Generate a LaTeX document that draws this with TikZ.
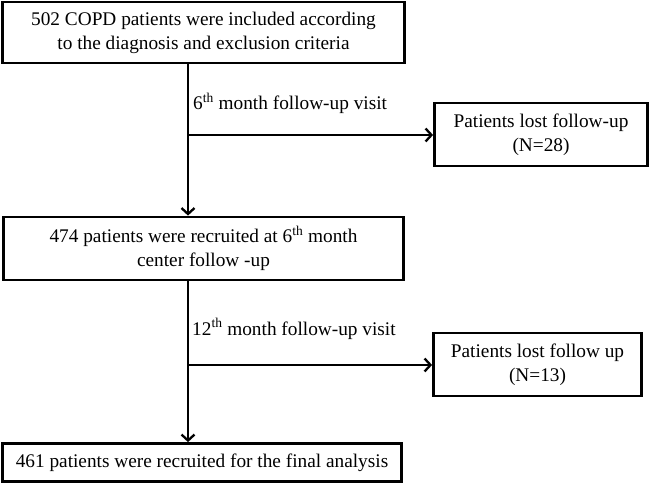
\documentclass[tikz,border=0pt]{standalone}
\usepackage{fontspec}
\setmainfont{Liberation Serif}
\usetikzlibrary{arrows.meta}
\begin{document}
\begin{tikzpicture}[x=1pt,y=-1pt,
  box/.style={draw,line width=2.8pt,align=center,inner sep=0pt,font=\fontsize{19.3}{24}\selectfont},
  arr/.style={line width=2.5pt,-{Straight Barb[length=6pt,width=13pt,line width=2.3pt]}},
  lbl/.style={anchor=base west,inner sep=0pt,font=\fontsize{19.3}{24}\selectfont}]
\useasboundingbox (0,0) rectangle (649,484);
\node[box,minimum width=402pt,minimum height=61pt] (b1) at (203.5,32.5)
  {502 COPD patients were included according\\to the diagnosis and exclusion criteria};
\node[box,minimum width=213pt,minimum height=63pt] (l1) at (541,134.5)
  {Patients lost follow-up\\(N=28)};
\node[box,minimum width=400pt,minimum height=63pt] (b2) at (203.5,248.5)
  {474 patients were recruited at 6\textsuperscript{th} month\\center follow -up};
\node[box,minimum width=208pt,minimum height=63pt] (l2) at (537.5,364.5)
  {Patients lost follow up\\(N=13)};
\node[box,minimum width=399pt,minimum height=38pt] (b3) at (202,462.5)
  {461 patients were recruited for the final analysis};
\coordinate (j1) at (188,135);
\coordinate (j2) at (188,365);
\draw[arr] (b1.south -| j1) -- (j1 |- b2.north);
\draw[arr] (j1) -- (j1 -| l1.west);
\draw[arr] (b2.south -| j2) -- (j2 |- b3.north);
\draw[arr] (j2) -- (j2 -| l2.west);
\node[lbl] (t1) at (193,110) {6\textsuperscript{th} month follow-up visit};
\node[lbl] (t2) at (192,335) {12\textsuperscript{th} month follow-up visit};
\end{tikzpicture}
\end{document}
